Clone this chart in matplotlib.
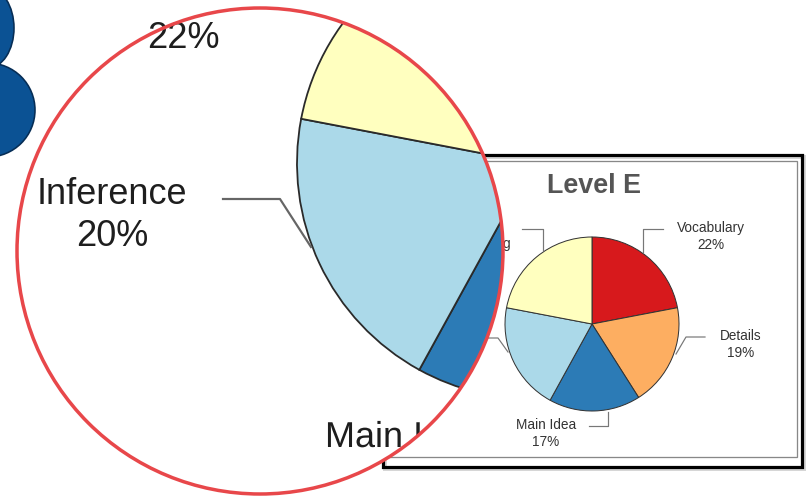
import matplotlib
matplotlib.use("Agg")
import matplotlib.pyplot as plt
from matplotlib.patches import Circle, Ellipse, Rectangle, PathPatch
from matplotlib.textpath import TextPath
from matplotlib.font_manager import FontProperties

plt.rcParams['font.family'] = ['Liberation Sans', 'DejaVu Sans']

# ---- data ----
categories = ["Vocabulary", "Details", "Main Idea", "Inference", "Summarizing"]
values = [22, 19, 17, 20, 22]
colors = ["#d7191c", "#fdae61", "#2c7bb6", "#abd9e9", "#ffffbf"]
title = "Level E"

W, H = 807, 496
fig = plt.figure(figsize=(W / 100, H / 100), dpi=100)
ax = fig.add_axes([0, 0, 1, 1])
ax.axis('off')


def Y(y):
    return H - y


def px(p):
    return p * 0.72

# ---- small chart frame ----
ax.add_patch(Rectangle((385, Y(469)), 419, 312, fill=False, ec="#bbbbbb",
                       lw=px(4), zorder=1, alpha=0.6))
ax.add_patch(Rectangle((383, Y(467)), 419, 312, fill=False, ec="black",
                       lw=px(3.2), zorder=2))
ax.add_patch(Rectangle((388, Y(457)), 409, 296, fill=False, ec="#888888",
                       lw=px(1.3), zorder=2))

# ---- small pie ----
small_c = (592, Y(324))
small_r = 87
ax.pie(values, colors=colors, startangle=90, counterclock=False,
       center=small_c, radius=small_r,
       wedgeprops=dict(edgecolor="#333333", linewidth=px(1.0), zorder=3))

ax.text(594, Y(186), title, ha="center", va="center", fontsize=19.4,
        fontweight="bold", color="#555555", zorder=3)

lab_kw = dict(ha="center", va="center", fontsize=9.8, color="#333333",
              linespacing=1.25, zorder=3)
lead_kw = dict(color="#777777", lw=px(1.2), zorder=3)

ax.text(711, Y(236.5), f"{categories[0]}\n{values[0]}%", **lab_kw)
ax.plot([663, 643, 643], [Y(229), Y(229), Y(252)], **lead_kw)

ax.text(741, Y(344.5), f"{categories[1]}\n{values[1]}%", **lab_kw)
ax.plot([705, 686, 676], [Y(337), Y(337), Y(354)], **lead_kw)

ax.text(546, Y(433.5), f"{categories[2]}\n{values[2]}%", **lab_kw)
ax.plot([589, 608, 608], [Y(426), Y(426), Y(412)], **lead_kw)

ax.text(448, Y(344.5), f"{categories[3]}\n{values[3]}%", **lab_kw)
ax.plot([470, 498, 508], [Y(338), Y(338), Y(352)], **lead_kw)

ax.text(471, Y(252), f"{categories[4]}\n{values[4]}%", **lab_kw)
ax.plot([522, 543, 543], [Y(229), Y(229), Y(250)], **lead_kw)

# ---- magnifier ----
mag_c = (260, Y(251))
mag_r = 243
lens = Circle(mag_c, mag_r, fc="white", ec="none", zorder=5)
ax.add_patch(lens)

big_c = (533, Y(163))
big_r = 236
wedges, _ = ax.pie(values, colors=colors, startangle=90, counterclock=False,
                   center=big_c, radius=big_r,
                   wedgeprops=dict(edgecolor="#2a2a2a", linewidth=px(1.8),
                                   zorder=6))
for w in wedges:
    w.set_clip_on(True)
    w.set_clip_path(lens)

big_lab = dict(ha="center", va="center", fontsize=26, color="#1e1e1e",
               linespacing=1.25, zorder=7)
ax.text(112, Y(215.5), f"{categories[3]}\n{values[3]}%", **big_lab)
l1, = ax.plot([223, 280, 311], [Y(199), Y(199), Y(247)], color="#666666",
              lw=px(2.2), zorder=7)
l1.set_clip_path(lens)
ax.text(183, Y(38), f"{values[4]}%", **big_lab)

# "Main Idea" label cut by the lens edge: draw as a clipped text path
tp = TextPath((325, Y(447)), categories[2], size=36,
              prop=FontProperties(family="Liberation Sans"))
tpp = PathPatch(tp, fc="#1e1e1e", ec="none", zorder=7)
ax.add_patch(tpp)
tpp.set_clip_on(True)
tpp.set_clip_path(lens)

ax.add_patch(Circle(mag_c, mag_r, fill=False, ec="#e8474a", lw=px(3.5),
                    zorder=8))

# ---- blue blob ----
blob_kw = dict(fc="#0b5294", ec="#062d55", lw=px(1.6), zorder=4)
ax.add_patch(Ellipse((-12, Y(28)), 52, 80, **blob_kw))
ax.add_patch(Ellipse((-12, Y(110)), 94, 94, **blob_kw))

ax.set_xlim(0, W)
ax.set_ylim(0, H)
ax.set_aspect('auto')
fig.savefig("out.png", dpi=100, facecolor="white")
